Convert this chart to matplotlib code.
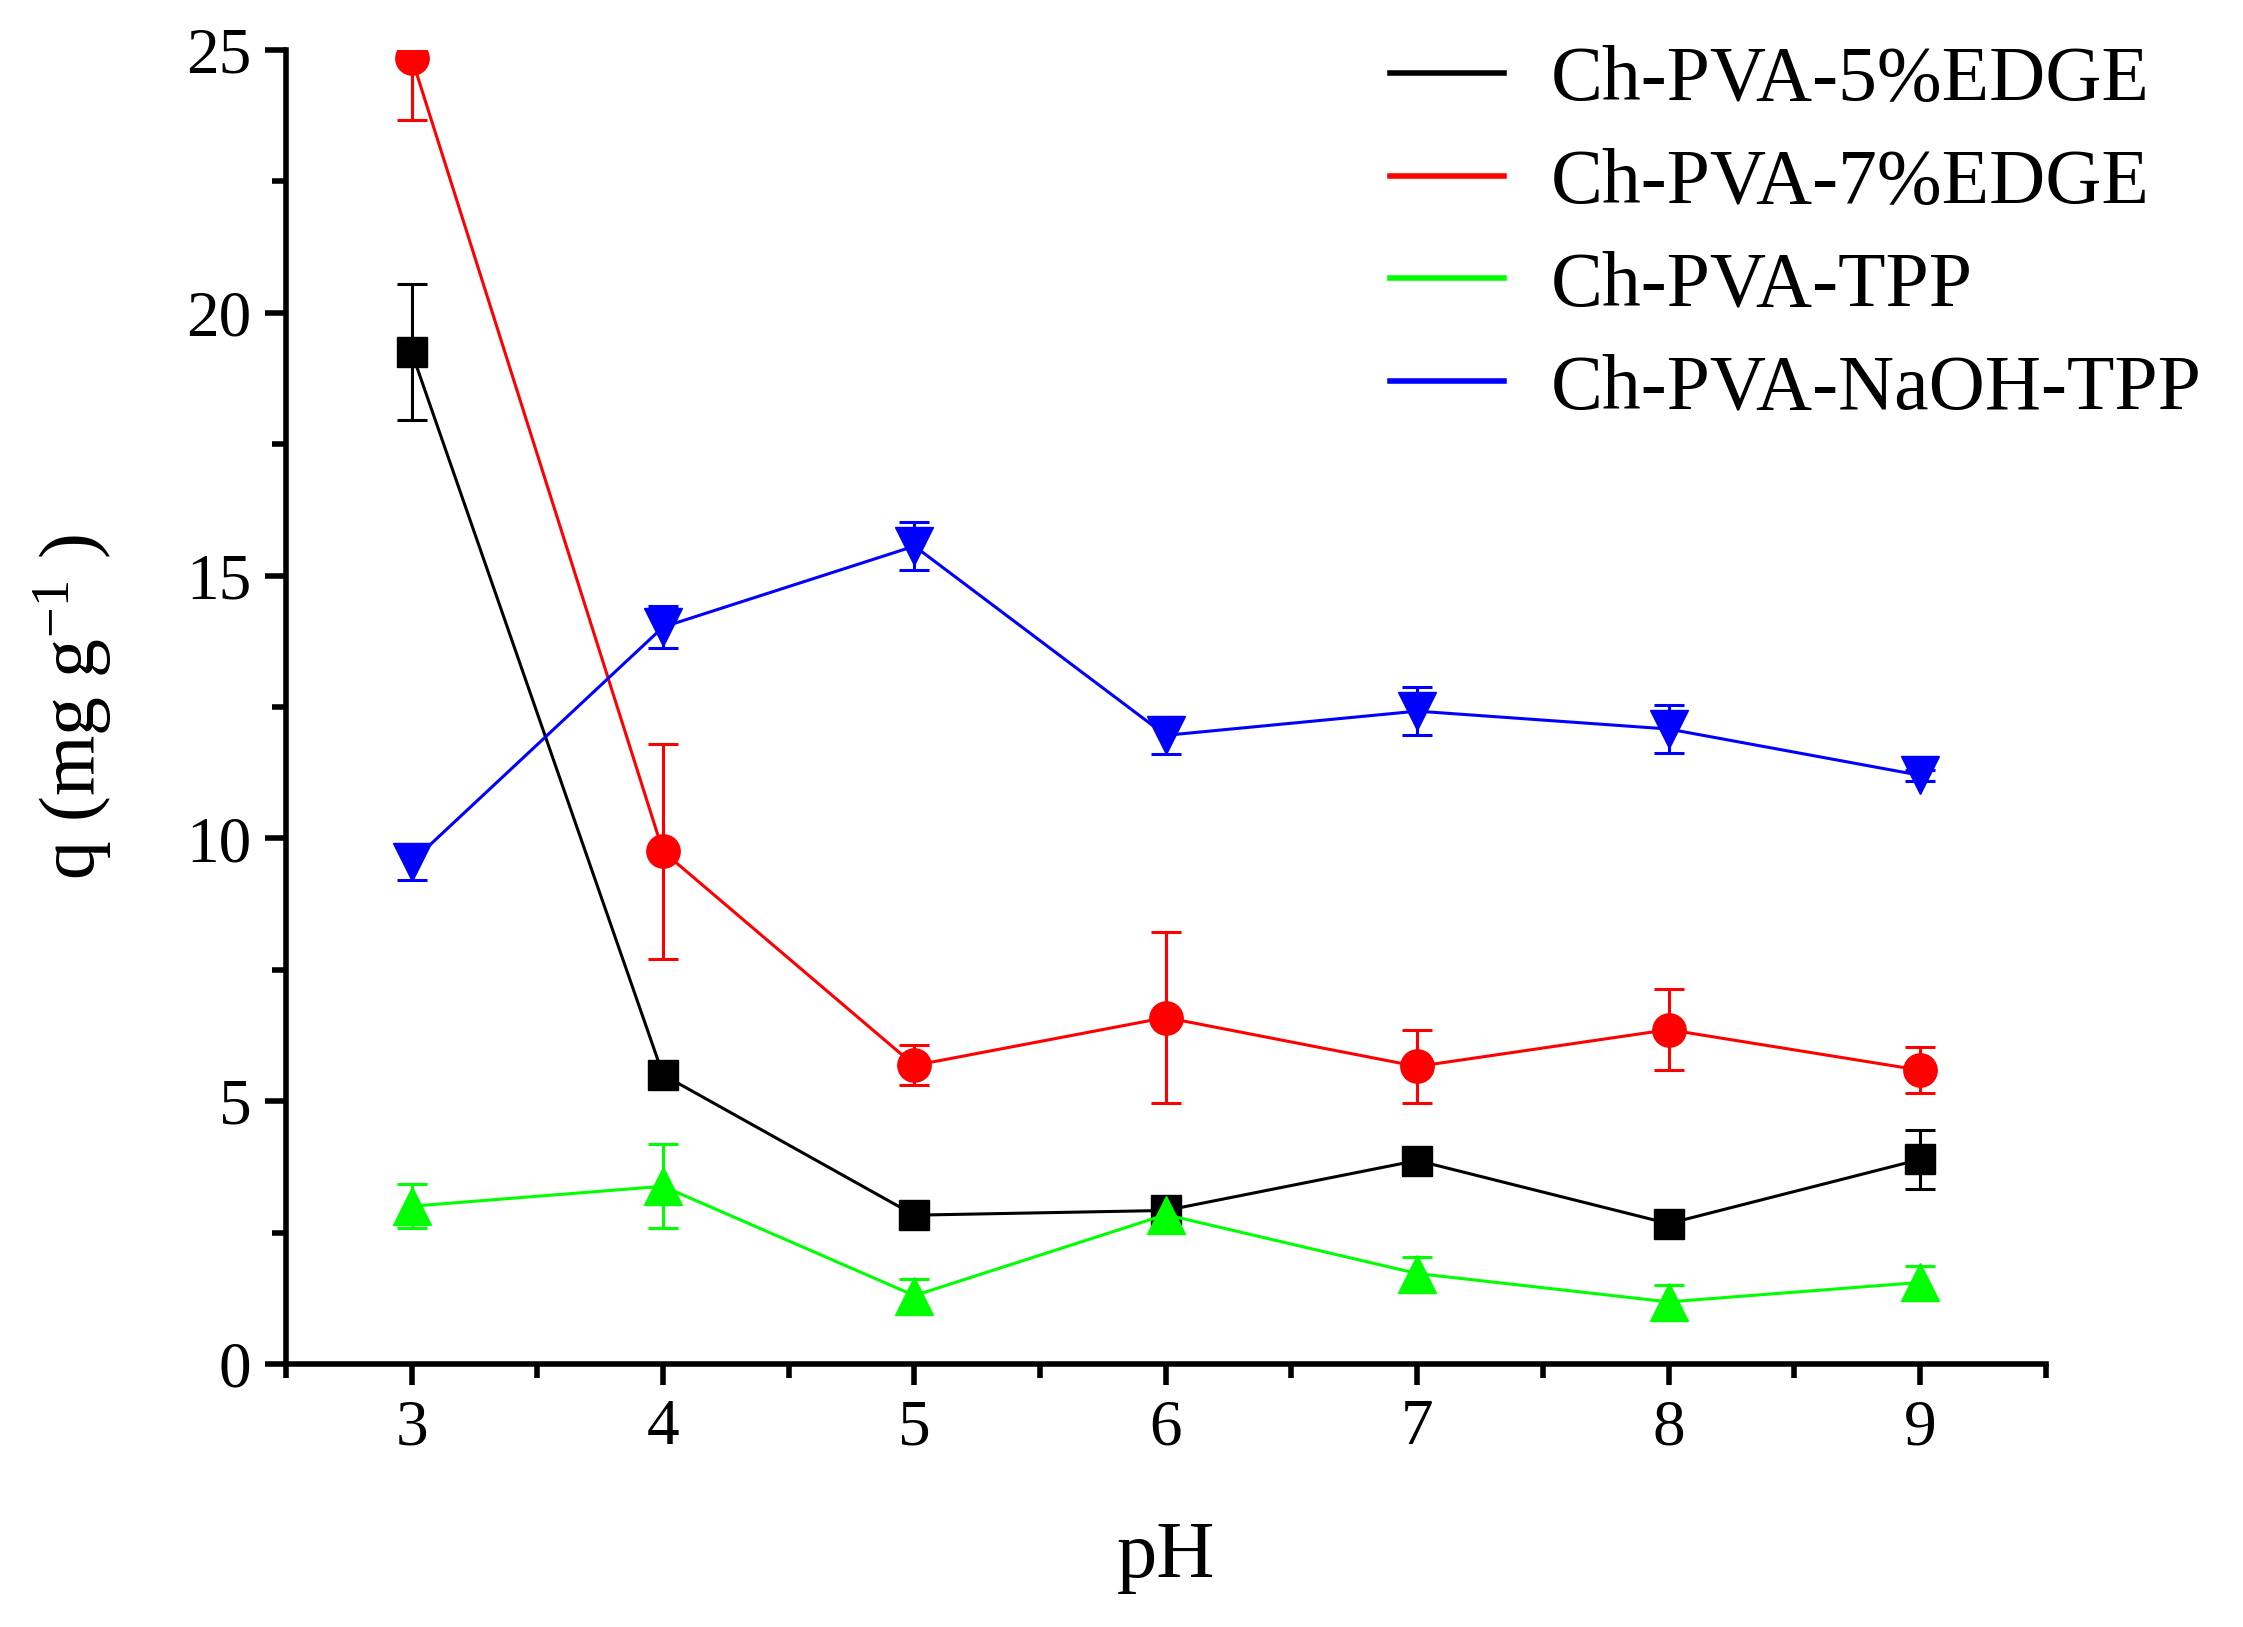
import matplotlib
matplotlib.use('Agg')
import matplotlib.pyplot as plt
from matplotlib.lines import Line2D
from matplotlib.ticker import MultipleLocator

plt.rcParams['font.family'] = ['Liberation Serif', 'DejaVu Serif']
plt.rcParams['mathtext.fontset'] = 'custom'
plt.rcParams['mathtext.rm'] = 'Liberation Serif'
plt.rcParams['mathtext.default'] = 'regular'

# data
ph = [3, 4, 5, 6, 7, 8, 9]

edge5 = [19.25, 5.5, 2.83, 2.92, 3.87, 2.67, 3.89]
edge5_err = [1.3, 0, 0, 0, 0, 0, 0.57]

edge7 = [24.85, 9.75, 5.68, 6.59, 5.66, 6.36, 5.59]
edge7_err = [1.18, 2.05, 0.38, 1.63, 0.7, 0.77, 0.44]

tpp = [3.0, 3.38, 1.3, 2.84, 1.72, 1.18, 1.55]
tpp_err = [0.42, 0.8, 0.32, 0.3, 0.32, 0.32, 0.32]

naoh_tpp = [9.55, 14.02, 15.56, 11.96, 12.42, 12.08, 11.2]
naoh_tpp_err = [0.35, 0.4, 0.45, 0.35, 0.45, 0.45, 0.1]

labels = ['Ch-PVA-5%EDGE', 'Ch-PVA-7%EDGE', 'Ch-PVA-TPP', 'Ch-PVA-NaOH-TPP']
colors = ['black', 'red', '#00ff00', 'blue']
markers = ['s', 'o', '^', 'v']
msizes = [22, 24, 28, 28]

fig = plt.figure(figsize=(22.43, 16.27), dpi=100)
ax = fig.add_axes([0.1275, 0.1617, 0.7845, 0.8076])

series = [(edge5, edge5_err), (edge7, edge7_err), (tpp, tpp_err), (naoh_tpp, naoh_tpp_err)]
for (y, e), c, m, ms in zip(series, colors, markers, msizes):
    ax.errorbar(ph, y, yerr=e, fmt='none', ecolor=c, elinewidth=2.2,
                capsize=11, capthick=2.2, zorder=2)
    ax.plot(ph, y, color=c, marker=m, markersize=ms, linewidth=2.2, zorder=3)

ax.set_xlim(2.5, 9.5)
ax.set_ylim(0, 25)
ax.xaxis.set_major_locator(MultipleLocator(1))
ax.xaxis.set_minor_locator(MultipleLocator(0.5))
ax.yaxis.set_major_locator(MultipleLocator(5))
ax.yaxis.set_minor_locator(MultipleLocator(2.5))

for s in ['top', 'right']:
    ax.spines[s].set_visible(False)
for s in ['left', 'bottom']:
    ax.spines[s].set_linewidth(4)

ax.tick_params(which='major', direction='out', length=15, width=4, labelsize=47, pad=10)
ax.tick_params(which='minor', direction='out', length=10, width=4)

ax.set_xlabel('pH', fontsize=58, labelpad=45)
ax.set_ylabel('q (mg g$^{-1}$ )', fontsize=56, labelpad=52)

handles = [Line2D([0], [0], color=c, linewidth=4) for c in colors]
fig.legend(handles, labels, loc='upper left', bbox_to_anchor=(0.597, 1.003),
           frameon=False, fontsize=56, handlelength=1.47, handletextpad=0.6,
           labelspacing=0.4, borderaxespad=0.25)

fig.savefig('out.png', dpi=100)
